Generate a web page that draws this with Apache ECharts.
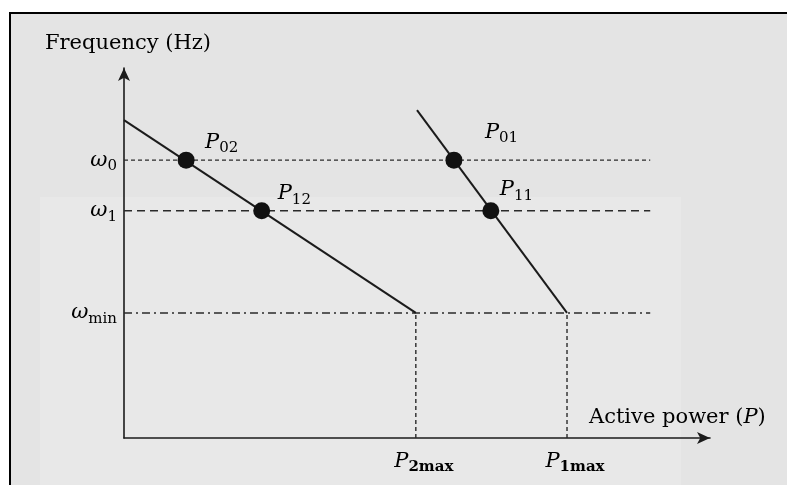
<!DOCTYPE html>
<html>
<head>
<meta charset="utf-8">
<script src="https://cdn.jsdelivr.net/npm/echarts@6/dist/echarts.min.js"></script>
<style>html,body{margin:0;padding:0;background:#fff;overflow:hidden}#c{width:787px;height:485px}</style>
</head>
<body>
<div id="c"></div>
<script>
// ---- data ----
const omegaKeys = ['0', '1', 'min'];
const omegaValues = [75.1, 61.4, 33.8];
const dashEndP = 89.8;
const line2P = [0, 49.8];
const line2F = [85.9, 33.8];
const line1P = [50.0, 75.6];
const line1F = [88.6, 33.8];
const pointNames = ['02', '12', '01', '11'];
const pointP = [10.6, 23.5, 56.3, 62.6];
const pointF = [75.1, 61.4, 75.1, 61.4];
const pmaxKeys = ['2max', '1max'];
const pmaxValues = [49.8, 75.6];
const xName = 'Active power';
const yName = 'Frequency (Hz)';

// ---- styles (not data) ----
const serif = 'DejaVu Serif';
const ink = '#1b1b1b';
const txt = '#000';
const labelOffsets = [[19, -18], [16, -17], [31, -28], [9, -21]];
const dashTypes = [[4, 3], [8, 5], [8, 4, 2, 4]];

const chart = echarts.init(document.getElementById('c'), null, {renderer: 'canvas'});

const series = [];
omegaValues.forEach((v, i) => {
  series.push({
    type: 'line', silent: true, symbol: 'none', z: 1,
    data: [[0, v], [dashEndP, v]],
    lineStyle: {color: '#2a2a2a', width: 1.4, type: dashTypes[i]}
  });
});
pmaxValues.forEach((p) => {
  series.push({
    type: 'line', silent: true, symbol: 'none', z: 1,
    data: [[p, 0], [p, omegaValues[2]]],
    lineStyle: {color: '#2a2a2a', width: 1.4, type: [4, 3]}
  });
});
series.push({
  type: 'line', symbol: 'none', z: 3,
  data: line2P.map((p, i) => [p, line2F[i]]),
  lineStyle: {color: ink, width: 2}
});
series.push({
  type: 'line', symbol: 'none', z: 3,
  data: line1P.map((p, i) => [p, line1F[i]]),
  lineStyle: {color: ink, width: 2}
});
series.push({
  type: 'scatter', z: 4, symbolSize: 17,
  itemStyle: {color: '#111', opacity: 1},
  data: pointP.map((p, i) => ({
    value: [p, pointF[i]],
    label: {
      show: true, position: 'inside', align: 'left', verticalAlign: 'middle',
      offset: labelOffsets[i],
      formatter: '{p|P}{s|' + pointNames[i] + '}',
      rich: {
        p: {fontFamily: serif, fontStyle: 'italic', fontSize: 21, color: txt},
        s: {fontFamily: serif, fontSize: 15, color: txt, padding: [12, 0, 0, 0]}
      }
    }
  }))
});

chart.setOption({
  backgroundColor: '#ffffff',
  animation: false,
  graphic: [
    {type: 'rect', z: -100, shape: {x: 10, y: 13, width: 900, height: 600},
     style: {fill: '#e4e4e4'}},
    {type: 'rect', z: -99, shape: {x: 40, y: 197, width: 641, height: 300},
     style: {fill: '#e8e8e8'}},
    {type: 'line', z: -98, shape: {x1: 10, y1: 13, x2: 787, y2: 13},
     style: {stroke: '#000', lineWidth: 2}},
    {type: 'line', z: -98, shape: {x1: 10, y1: 12, x2: 10, y2: 485},
     style: {stroke: '#000', lineWidth: 2}}
  ],
  grid: {left: 124, top: 68, width: 586, height: 370, containLabel: false, outerBoundsMode: 'none'},
  xAxis: {
    type: 'value', min: 0, max: 100,
    name: '{n|' + xName + ' (}{i|P}{n|)}',
    nameLocation: 'end', nameGap: -121,
    nameTextStyle: {
      padding: [0, 0, 40, 0],
      rich: {
        n: {fontFamily: serif, fontSize: 21, color: txt},
        i: {fontFamily: serif, fontSize: 21, fontStyle: 'italic', color: txt}
      }
    },
    axisLine: {show: true, symbol: ['none', 'arrow'], symbolSize: [9, 13], lineStyle: {color: ink, width: 1.6}},
    axisTick: {show: false},
    splitLine: {show: false},
    axisLabel: {
      customValues: pmaxValues,
      margin: 10,
      formatter: (v) => {
        const i = pmaxValues.indexOf(v);
        return '{p|P}{s|' + pmaxKeys[i] + '}';
      },
      rich: {
        p: {fontFamily: serif, fontStyle: 'italic', fontSize: 21, color: txt, padding: [0, 0, 0, 16]},
        s: {fontFamily: serif, fontSize: 15, fontWeight: 'bold', color: txt, padding: [12, 0, 0, 0]}
      }
    }
  },
  yAxis: {
    type: 'value', min: 0, max: 100,
    name: yName, nameLocation: 'end', nameGap: 14,
    nameTextStyle: {fontFamily: serif, fontSize: 21, color: txt, align: 'center', padding: [0, 0, 0, 8]},
    axisLine: {show: true, symbol: ['none', 'arrow'], symbolSize: [9, 13], lineStyle: {color: ink, width: 1.6}},
    axisTick: {show: false},
    splitLine: {show: false},
    axisLabel: {
      customValues: omegaValues,
      margin: 7,
      formatter: (v) => {
        const i = omegaValues.indexOf(v);
        return '{w|ω}{s|' + omegaKeys[i] + '}';
      },
      rich: {
        w: {fontFamily: serif, fontStyle: 'italic', fontSize: 21, color: txt},
        s: {fontFamily: serif, fontSize: 15, color: txt, padding: [12, 0, 0, 0]}
      }
    }
  },
  series: series
});
</script>
</body>
</html>
